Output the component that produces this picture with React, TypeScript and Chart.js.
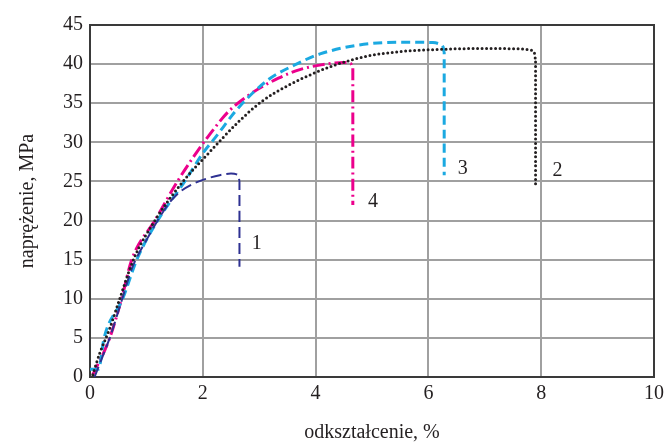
import React, { useEffect, useRef } from "react";
import { Chart, registerables } from "chart.js";

Chart.register(...registerables);

// Curve 1 (navy, dashed)
const s1X = [0.08, 0.2, 0.35, 0.55, 0.75, 1.0, 1.2, 1.42, 1.6, 1.8, 2.0, 2.3, 2.5, 2.6, 2.64, 2.65, 2.65];
const s1Y = [0, 2.2, 5, 9.5, 14, 17.5, 20, 22.4, 23.7, 24.6, 25.2, 25.8, 26.0, 25.9, 25.5, 25, 14.1];
// Curve 2 (black, dotted)
const s2X = [0.05, 0.17, 0.34, 0.52, 0.77, 1.15, 1.65, 2.1, 2.63, 3.04, 3.52, 3.96, 4.35, 4.9, 5.5, 6.26, 7.0, 7.6, 7.8, 7.88, 7.9, 7.9];
const s2Y = [0.3, 3, 6, 9.85, 15, 20, 25, 28.6, 32.6, 35.2, 37.3, 38.8, 39.9, 41.0, 41.6, 41.9, 42.0, 41.95, 41.8, 41.4, 40.6, 24.5];
// Curve 3 (cyan, dashed)
const s3X = [0, 0.15, 0.25, 0.58, 0.83, 1.2, 1.68, 2.0, 2.22, 2.63, 3.16, 3.63, 4.08, 4.73, 5.5, 6.08, 6.2, 6.26, 6.28, 6.28];
const s3Y = [1, 1, 5, 10, 15, 20, 25, 28.6, 30.6, 34.4, 38.0, 39.9, 41.3, 42.4, 42.8, 42.75, 42.55, 42.2, 41.5, 25.8];
// Curve 4 (magenta, dash-dot)
const s4X = [0.05, 0.34, 0.56, 0.74, 1.15, 1.55, 1.85, 2.1, 2.45, 2.87, 3.34, 3.72, 4.1, 4.5, 4.62, 4.66, 4.66];
const s4Y = [0.3, 4.8, 10, 15, 20, 25, 28.3, 30.8, 33.9, 36.3, 38.2, 39.3, 39.9, 40.2, 40.1, 39.7, 22.0];

// Curve number labels
const labelText = ["1", "2", "3", "4"];
const labelX = [2.87, 8.2, 6.52, 4.93];
const labelY = [17.0, 26.4, 26.6, 22.4];

const xTicks = [0, 2, 4, 6, 8, 10];
const yTicks = [0, 5, 10, 15, 20, 25, 30, 35, 40, 45];

const FONT = "'Liberation Serif', 'Times New Roman', serif";
const TEXT = "#231f20";

function pts(xs: number[], ys: number[]) {
  return xs.map((x, i) => ({ x, y: ys[i] }));
}

export default function App() {
  const ref = useRef<HTMLCanvasElement | null>(null);

  useEffect(() => {
    if (!ref.current) return;
    const framePlugin = {
      id: "frame",
      beforeDatasetsDraw(chart: any) {
        const { ctx, chartArea } = chart;
        ctx.save();
        ctx.strokeStyle = "#3a3a3a";
        ctx.lineWidth = 2;
        ctx.strokeRect(chartArea.left, chartArea.top, chartArea.right - chartArea.left, chartArea.bottom - chartArea.top);
        ctx.restore();
      },
      afterDatasetsDraw(chart: any) {
        const { ctx, scales } = chart;
        ctx.save();
        ctx.fillStyle = TEXT;
        ctx.font = "20px " + FONT;
        ctx.textAlign = "left";
        ctx.textBaseline = "middle";
        labelText.forEach((t, i) => {
          ctx.fillText(t, scales.x.getPixelForValue(labelX[i]), scales.y.getPixelForValue(labelY[i]));
        });
        ctx.restore();
      },
    };

    const common = {
      fill: false,
      pointRadius: 0,
      cubicInterpolationMode: "monotone",
      borderJoinStyle: "round",
    };

    const chart = new Chart(ref.current, {
      type: "line",
      data: {
        datasets: [
          {
            ...common,
            data: pts(s2X, s2Y),
            borderColor: "#231f20",
            borderWidth: 3,
            borderDash: [0, 4.5],
            borderCapStyle: "round",
          },
          {
            ...common,
            data: pts(s1X, s1Y),
            borderColor: "#2e3192",
            borderWidth: 2,
            borderDash: [11, 5],
            borderCapStyle: "butt",
          },
          {
            ...common,
            data: pts(s3X, s3Y),
            borderColor: "#1ba9e1",
            borderWidth: 3,
            borderDash: [9, 5],
            borderCapStyle: "butt",
          },
          {
            ...common,
            data: pts(s4X, s4Y),
            borderColor: "#ec008c",
            borderWidth: 3,
            borderDash: [12, 4, 2, 4],
            borderCapStyle: "butt",
          },
        ] as any,
      },
      options: {
        animation: false,
        responsive: false,
        plugins: { legend: { display: false }, tooltip: { enabled: false } },
        layout: { padding: { left: 0, right: 17, top: 25, bottom: 0 } },
        scales: {
          x: {
            type: "linear",
            min: 0,
            max: 10,
            afterFit(scale: any) {
              scale.height = 66;
            },
            afterBuildTicks(scale: any) {
              scale.ticks = xTicks.map((v) => ({ value: v }));
            },
            ticks: {
              color: TEXT,
              font: { family: FONT, size: 20 },
              padding: 5,
              maxRotation: 0,
            },
            grid: { color: "#a0a0a0", lineWidth: 2, drawTicks: false },
            border: { display: false },
            title: {
              display: true,
              text: "odkształcenie, %",
              color: TEXT,
              font: { family: FONT, size: 20, lineHeight: 1 },
              padding: { top: 0, bottom: 0 },
            },
          },
          y: {
            type: "linear",
            min: 0,
            max: 45,
            afterFit(scale: any) {
              scale.width = 90;
            },
            afterBuildTicks(scale: any) {
              scale.ticks = yTicks.map((v) => ({ value: v }));
            },
            ticks: {
              color: TEXT,
              font: { family: FONT, size: 20 },
              padding: 7,
            },
            grid: { color: "#a0a0a0", lineWidth: 2, drawTicks: false },
            border: { display: false },
            title: {
              display: true,
              text: "naprężenie, MPa",
              color: TEXT,
              font: { family: FONT, size: 20, lineHeight: 1.2 },
              padding: { top: 16, bottom: 0 },
            },
          },
        },
      } as any,
      plugins: [framePlugin],
    });
    return () => chart.destroy();
  }, []);

  return (
    <div style={{ position: "fixed", left: 0, top: 0, width: 671, height: 443, background: "#fff" }}>
      <canvas ref={ref} width={671} height={443} style={{ width: 671, height: 443 }} />
    </div>
  );
}
